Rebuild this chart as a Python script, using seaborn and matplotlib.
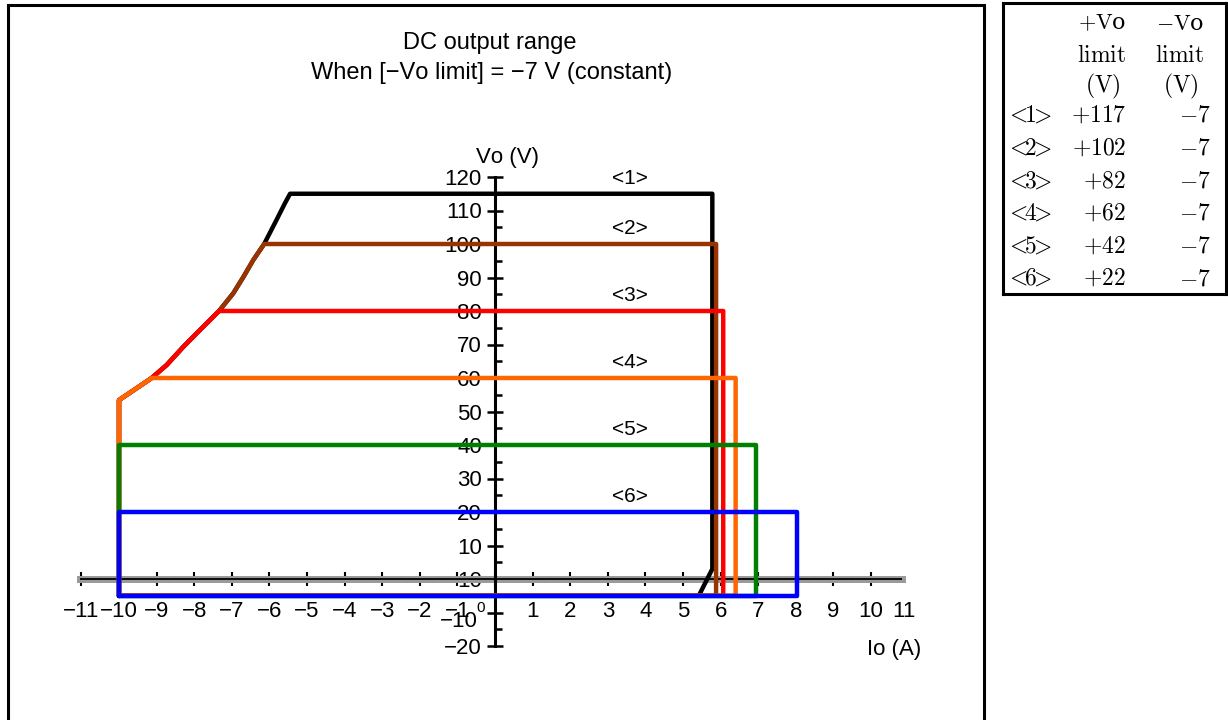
import numpy as np
import pandas as pd
import seaborn as sns
import matplotlib.pyplot as plt
from matplotlib.ticker import FixedLocator, MultipleLocator
from matplotlib.patches import Rectangle

# curves <1>..<6>: top voltage and right (current) edge
curve_names = ['<1>', '<2>', '<3>', '<4>', '<5>', '<6>']
curve_colors = ['#000000', '#993300', '#ff0000', '#ff6600', '#008000', '#0000ff']
top_v = [115, 100, 80, 60, 40, 20]
right_i = [5.78, 5.88, 6.07, 6.40, 6.94, 8.03]

# left envelope (shared by the high curves)
env_i = [-10.0, -9.13, -8.73, -8.29, -7.85, -7.34, -6.96, -6.69, -6.43, -6.14, -5.81, -5.59, -5.45]
env_v = [53.4, 60, 63.9, 69.3, 74.3, 80, 85.3, 90.2, 95.2, 100, 107.2, 112.1, 115]
left_i = -10.0
floor_v = -5.0
# <1> bends in at the bottom right
knee_v = 3.0
foot_i = 5.42

# table on the right
plus_limit = ['+117', '+102', '+82', '+62', '+42', '+22']
minus_limit = ['-7', '-7', '-7', '-7', '-7', '-7']

x_ticks = list(range(-11, 11))
y_ticks = list(range(-20, 121, 10))

rows = []
for name, top, right in zip(curve_names, top_v, right_i):
    pts = [(left_i, floor_v)]
    if top > env_v[0]:
        pts += [(i, v) for i, v in zip(env_i, env_v) if v <= top]
    else:
        pts.append((left_i, top))
    pts.append((right, top))
    if name == '<1>':
        pts += [(right, knee_v), (foot_i, floor_v)]
    else:
        pts.append((right, floor_v))
    pts.append((left_i, floor_v))
    for k, (i, v) in enumerate(pts):
        rows.append({'curve': name, 'step': k, 'Io': i, 'Vo': v})
df = pd.DataFrame(rows)

sns.set_style('white')
plt.rcParams['font.family'] = ['Liberation Sans', 'DejaVu Sans']
plt.rcParams['mathtext.fontset'] = 'cm'
plt.rcParams['text.color'] = 'black'
plt.rcParams['xtick.color'] = 'black'
plt.rcParams['ytick.color'] = 'black'

W, H = 1228, 720
fig = plt.figure(figsize=(W / 100, H / 100), dpi=100)

# outer frame
fig.patches.append(Rectangle((8 / W, -0.05), 976 / W, 1.05 - 5 / H, transform=fig.transFigure,
                             fill=False, ec='black', lw=2.2))

px = 37.6
x0 = 495
ax = fig.add_axes([(x0 - 11.05 * px) / W, 1 - 646 / H, 21.95 * px / W, 469 / H])
ax.patch.set_alpha(0)

sns.lineplot(data=df, x='Io', y='Vo', hue='curve', hue_order=curve_names,
             palette=dict(zip(curve_names, curve_colors)), sort=False, estimator=None,
             linewidth=3.2, legend=False, ax=ax, zorder=2)
for ln in ax.lines:
    ln.set_solid_joinstyle('round')
    ln.set_solid_capstyle('round')
    ln.set_clip_on(False)

ax.set_xlim(-11.05, 10.9)
ax.set_ylim(-20, 120)
ax.set_xlabel('')
ax.set_ylabel('')
ax.spines[['top', 'right']].set_visible(False)
ax.spines['left'].set_position(('data', 0))
ax.spines['bottom'].set_position(('data', 0))
ax.spines['left'].set_linewidth(2.2)
ax.spines['left'].set_color('black')
ax.spines['bottom'].set_linewidth(5)
ax.spines['bottom'].set_color('#999999')
ax.spines['bottom'].set_bounds(-11.05, 10.83)
ax.spines['left'].set_zorder(1.5)
ax.spines['bottom'].set_zorder(1.4)
ax.hlines(0, -11.05, 10.83, color='black', lw=1.3, zorder=1.45)

ax.xaxis.set_major_locator(FixedLocator(x_ticks + [10.87]))
ax.xaxis.set_major_formatter(plt.FixedFormatter(
    [('−%d' % -t if t < 0 else ('' if t == 0 else str(t))) for t in x_ticks] + ['11']))
ax.xaxis.set_minor_locator(MultipleLocator(0.5))
ax.yaxis.set_major_locator(FixedLocator(y_ticks))
ylab = []
for t in y_ticks:
    if t == -10:
        ylab.append('')
    elif t == 0:
        ylab.append('10')
    elif t < 0:
        ylab.append('−%d' % -t)
    else:
        ylab.append(str(t))
ax.yaxis.set_major_formatter(plt.FixedFormatter(ylab))
ax.yaxis.set_minor_locator(MultipleLocator(5))

ax.tick_params(bottom=True, left=True, which='both')
ax.tick_params(axis='x', which='major', direction='inout', length=9.5, width=1.5,
               color='black', labelcolor='black', labelsize=16, pad=11)
ax.tick_params(axis='x', which='minor', direction='inout', length=5, width=1.2, color='black')
ax.tick_params(axis='y', which='major', direction='inout', length=11, width=1.8,
               color='black', labelcolor='black', labelsize=16, pad=4)
ax.tick_params(axis='y', which='minor', direction='in', length=5, width=1.8, color='black')
ax.xaxis.get_major_ticks()[-1].tick1line.set_visible(False)

# odd labels around the origin
ax.text(-0.45, -12.6, '−10', ha='right', va='center', fontsize=16)
ax.text(-0.37, -8.6, '0', ha='center', va='center', fontsize=11)

# curve labels
for name, top in zip(curve_names, top_v):
    ax.text(3.6, top + 4.5, name, ha='center', va='center', fontsize=15)

# axis names
fig.text(507 / W, 1 - 158 / H, 'Vᴏ (V)', ha='center', va='center', fontsize=16)
fig.text(894 / W, 1 - 649 / H, 'Iᴏ (A)', ha='center', va='center', fontsize=16)

# title
fig.text(490 / W, 1 - 43 / H, 'DC output range', ha='center', va='center', fontsize=17)
fig.text(492 / W, 1 - 73 / H, 'When [−Vᴏ limit] = −7 V (constant)', ha='center', va='center',
         fontsize=17)

# table
tax = fig.add_axes([1003 / W, 1 - 294 / H, 223 / W, 291 / H])
tax.set_xlim(1003, 1226)
tax.set_ylim(294, 3)
tax.set_xticks([])
tax.set_yticks([])
for s in tax.spines.values():
    s.set_linewidth(2.2)
    s.set_color('black')

tfs = 17
tfam = ['DejaVu Serif', 'DejaVu Sans']
tax.text(1102, 23.5, r'$+\mathrm{V}$ᴏ', ha='center', va='center', fontsize=tfs - 1, family=tfam)
tax.text(1180, 23.5, r'$-\mathrm{V}$ᴏ', ha='center', va='center', fontsize=tfs - 1, family=tfam)
for cx in (1102, 1180):
    tax.text(cx, 56, r'$\mathrm{limit}$', ha='center', va='center', fontsize=tfs)
    tax.text(cx + 1, 86, r'$(\mathrm{V})$', ha='center', va='center', fontsize=tfs)
for k, (name, p, m) in enumerate(zip(curve_names, plus_limit, minus_limit)):
    y = 116 + 32.6 * k
    tax.text(1005, y, r'$<\!\!%s\!\!>$' % name[1:-1], ha='left', va='center', fontsize=tfs)
    tax.text(1126, y, r'$\mathrm{%s}$' % p, ha='right', va='center', fontsize=tfs)
    tax.text(1211, y, r'$%s$' % m, ha='right', va='center', fontsize=tfs)

fig.savefig('out.png', dpi=100)
